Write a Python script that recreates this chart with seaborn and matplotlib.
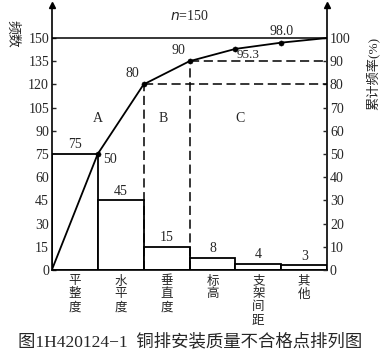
import matplotlib
matplotlib.use("Agg")
import matplotlib.pyplot as plt
import seaborn as sns
import pandas as pd

# data
categories = ["平整度", "水平度", "垂直度", "标高", "支架间距", "其他"]
counts = [75, 45, 15, 8, 4, 3]
cum_pct = [0, 50, 80, 90, 95.3, 98.0, 100]
left_ticks = [0, 15, 30, 45, 60, 75, 90, 105, 120, 135, 150]
right_ticks = [0, 10, 20, 30, 40, 50, 60, 70, 80, 90, 100]
total = 150

sns.set_style("white")
plt.rcParams['font.family'] = ['Liberation Serif', 'Noto Sans CJK SC']

df = pd.DataFrame({"cat": categories, "n": counts})
# cumulative points sit on the right edge of each bar
cum_x = [i - 0.5 for i in range(len(cum_pct))]

fig = plt.figure(figsize=(3.84, 3.58), dpi=100)
ax = fig.add_axes([0.135, 0.246, 0.717, 0.74])
ytop = total * 265 / 232

sns.barplot(data=df, x="cat", y="n", color="white", edgecolor="black",
            width=1, linewidth=1.3, saturation=1, ax=ax)
ax.set_xlim(-0.5, len(categories) - 0.5)
ax.set_ylim(0, ytop)
ax.set_yticks(left_ticks)
ax.set_xticks(range(len(categories)))
ax.set_xticklabels(["\n".join(c) for c in categories], fontsize=9,
                   linespacing=1.1, va="top")
ax.set_xlabel("")
ax.set_ylabel("")
ax.tick_params(axis="x", length=0, pad=4)
ax.tick_params(axis="y", direction="in", length=3, labelsize=10, pad=2, width=1)
for s in ["left", "bottom", "right"]:
    ax.spines[s].set_linewidth(1.2)
    ax.spines[s].set_color("black")
ax.spines["top"].set_visible(False)

# bar value labels
for i, v in enumerate(counts):
    ax.annotate(str(v), (i, v), xytext=(0, 2), textcoords="offset points",
                ha="center", va="bottom", fontsize=10)

ax.axhline(total, color="black", lw=1.1)
ax.text(2.5, 164.5, "$n$=150", ha="center", va="center", fontsize=10)

ax2 = ax.twinx()
ax2.set_ylim(0, ytop / total * 100)
ax2.set_yticks(right_ticks)
ax2.tick_params(axis="y", direction="in", length=3, labelsize=10, pad=2, width=1)
for s in ["left", "bottom", "right", "top"]:
    ax2.spines[s].set_visible(False)
ax2.set_ylabel("")

sns.lineplot(x=cum_x, y=cum_pct, color="black", lw=1.3, ax=ax2)
sns.scatterplot(x=cum_x[1:-1], y=cum_pct[1:-1], color="black", s=14,
                edgecolor="black", ax=ax2, zorder=5)

# dashed guide lines for 80% and 90%
dash = (0, (6, 3))
xr = len(categories) - 0.5
for xi, p in [(1.5, 80), (2.5, 90)]:
    ax2.plot([xi, xr], [p, p], color="black", lw=1.1, linestyle=dash)
    ax2.plot([xi, xi], [0, p], color="black", lw=1.1, linestyle=dash)

# point labels
offs = {50: (4, -4, "left", "center"), 80: (-3, 3, "right", "bottom"),
        90: (-3, 3, "right", "bottom"), 98.0: (0, 3, "center", "bottom")}
for x, p in zip(cum_x[1:-1], cum_pct[1:-1]):
    lab = f"{p:.1f}" if p in (95.3, 98.0) else f"{p:.0f}"
    if p == 95.3:
        # sits between the point and the 90% dashed line
        ax2.annotate(lab, (x, 90), xytext=(1, 2), textcoords="offset points",
                     ha="left", va="baseline", fontsize=9.5)
        continue
    dx, dy, ha, va = offs[p]
    ax2.annotate(lab, (x, p), xytext=(dx, dy), textcoords="offset points",
                 ha=ha, va=va, fontsize=10)

ax.text(0.5, 98, "A", ha="center", va="center", fontsize=10)
ax.text(1.92, 98, "B", ha="center", va="center", fontsize=10)
ax.text(3.6, 98, "C", ha="center", va="center", fontsize=10)

# arrow heads on both vertical axes
ax.plot(0, 1, marker="^", color="black", ms=4, transform=ax.transAxes, clip_on=False)
ax.plot(1, 1, marker="^", color="black", ms=4, transform=ax.transAxes, clip_on=False)

fig.text(0.033, 0.905, "频数", rotation=270, ha="center", va="center", fontsize=10)
fig.text(0.970, 0.796, "累计频率(%)", rotation=90, ha="center", va="center", fontsize=9.5)
fig.text(0.495, 0.045, "图1H420124−1  铜排安装质量不合格点排列图",
         ha="center", va="center", fontsize=12.5)

fig.savefig("out.png", dpi=100)
